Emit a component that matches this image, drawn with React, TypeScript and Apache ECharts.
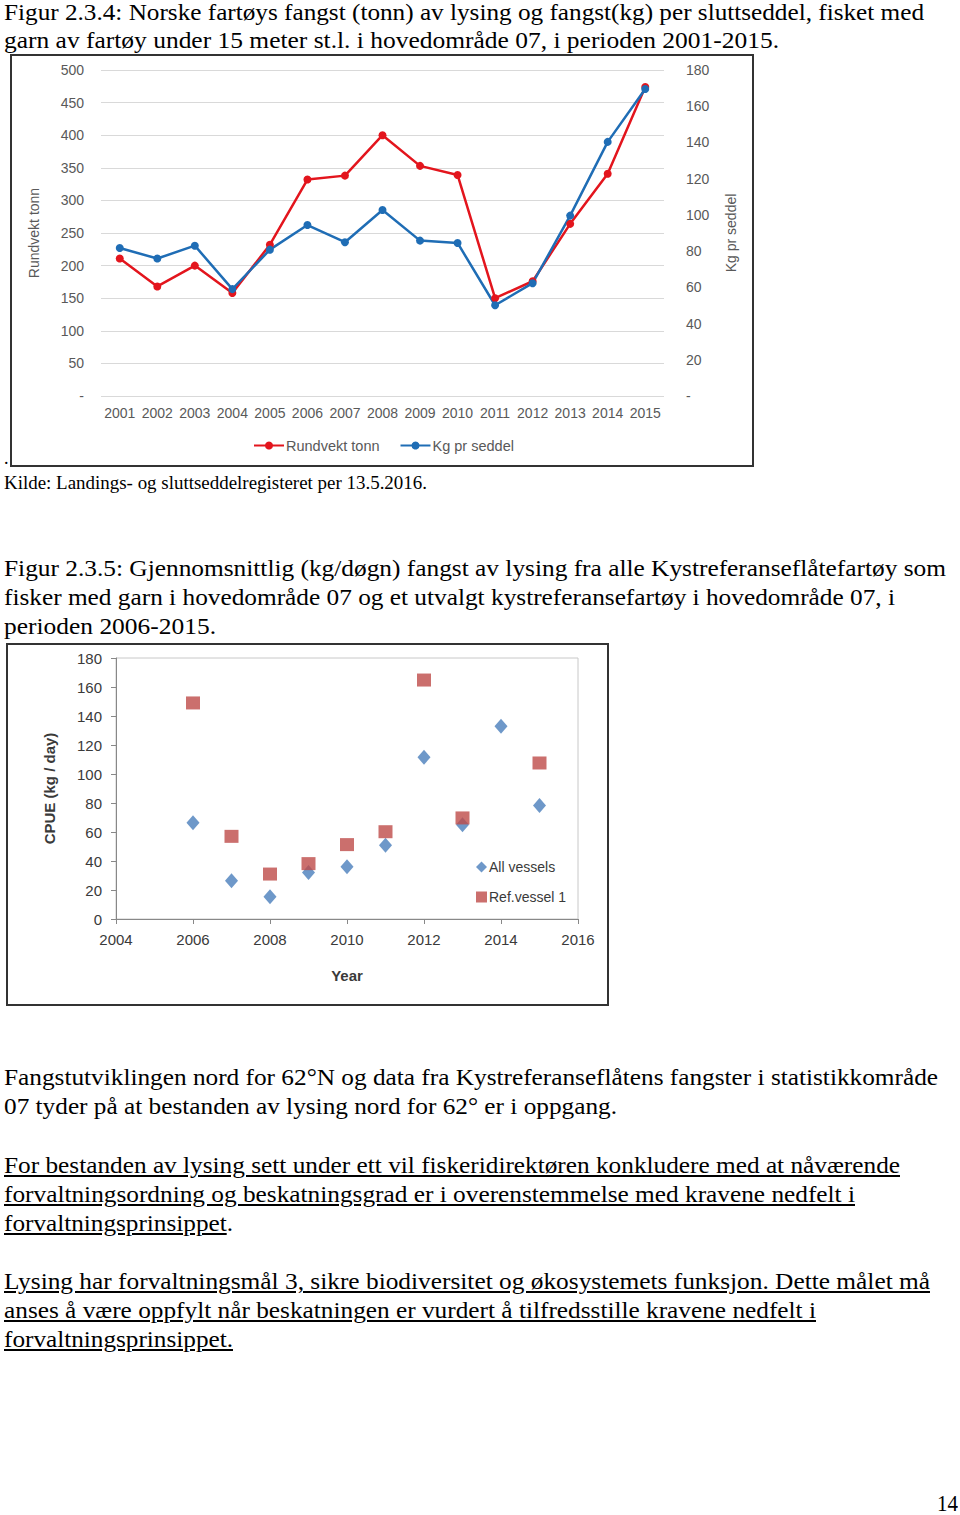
import React, { useEffect, useLayoutEffect, useRef } from "react";
import * as echarts from "echarts";

// ---------- Chart 1 data ----------
const years1 = ["2001","2002","2003","2004","2005","2006","2007","2008","2009","2010","2011","2012","2013","2014","2015"];
const rundvektTonn = [211, 168, 200, 158, 232, 332, 338, 400, 353, 339, 150, 176, 264, 341, 474];
const kgPrSeddel = [81.7, 75.9, 83.0, 59.0, 80.8, 94.4, 84.9, 102.7, 85.8, 84.5, 50.1, 62.3, 99.6, 140.3, 169.5];

// ---------- Chart 2 data ----------
const allVessels: [number, number][] = [
  [2006, 66.4], [2007, 26.4], [2008, 15.4], [2009, 32.0], [2010, 36.1],
  [2011, 50.8], [2012, 111.5], [2013, 65.0], [2014, 132.9], [2015, 78.2],
];
const refVessel1: [number, number][] = [
  [2006, 149.0], [2007, 57.0], [2008, 31.0], [2009, 38.2], [2010, 51.3],
  [2011, 60.2], [2012, 164.8], [2013, 69.7], [2015, 107.6],
];

// ---------- Page text ----------
type Seg = { t: string; u?: boolean };
type LineDef = { x: number; base: number; w?: number; size: number; segs: Seg[] };

const SERIF = '"Liberation Serif", "Times New Roman", serif';

const pageLines: LineDef[] = [
  { x: 4, base: 21, w: 920, size: 24, segs: [{ t: "Figur 2.3.4: Norske fartøys fangst (tonn) av lysing og fangst(kg) per sluttseddel, fisket med" }] },
  { x: 4, base: 49, w: 775, size: 24, segs: [{ t: "garn av fartøy under 15 meter st.l. i hovedområde 07, i perioden 2001-2015." }] },
  { x: 4, base: 465, size: 18, segs: [{ t: "." }] },
  { x: 4, base: 490, w: 423, size: 18, segs: [{ t: "Kilde: Landings- og sluttseddelregisteret per 13.5.2016." }] },
  { x: 4, base: 577, w: 942, size: 24, segs: [{ t: "Figur 2.3.5: Gjennomsnittlig (kg/døgn) fangst av lysing fra alle Kystreferanseflåtefartøy som" }] },
  { x: 4, base: 606, w: 891, size: 24, segs: [{ t: "fisker med garn i hovedområde 07 og et utvalgt kystreferansefartøy i hovedområde 07, i" }] },
  { x: 4, base: 635, w: 212, size: 24, segs: [{ t: "perioden 2006-2015." }] },
  { x: 4, base: 1086, w: 934, size: 24, segs: [{ t: "Fangstutviklingen nord for 62°N og data fra Kystreferanseflåtens fangster i statistikkområde" }] },
  { x: 4, base: 1115, w: 613, size: 24, segs: [{ t: "07 tyder på at bestanden av lysing nord for 62° er i oppgang." }] },
  { x: 4, base: 1174, w: 896, size: 24, segs: [{ t: "For bestanden av lysing sett under ett vil fiskeridirektøren konkludere med at nåværende", u: true }] },
  { x: 4, base: 1203, w: 851, size: 24, segs: [{ t: "forvaltningsordning og beskatningsgrad er i overenstemmelse med kravene nedfelt i", u: true }] },
  { x: 4, base: 1232, w: 229, size: 24, segs: [{ t: "forvaltningsprinsippet", u: true }, { t: "." }] },
  { x: 4, base: 1290, w: 926, size: 24, segs: [{ t: "Lysing har forvaltningsmål 3, sikre biodiversitet og økosystemets funksjon. Dette målet må", u: true }] },
  { x: 4, base: 1319, w: 812, size: 24, segs: [{ t: "anses å være oppfylt når beskatningen er vurdert å tilfredsstille kravene nedfelt i", u: true }] },
  { x: 4, base: 1348, w: 229, size: 24, segs: [{ t: "forvaltningsprinsippet.", u: true }] },
  { x: 937, base: 1512, w: 21, size: 24, segs: [{ t: "14" }] },
];

function TextLine({ def }: { def: LineDef }) {
  const ref = useRef<HTMLSpanElement>(null);
  const lh = 29;
  const top = def.base - ((lh - 1.107 * def.size) / 2 + 0.891 * def.size);
  useLayoutEffect(() => {
    const el = ref.current;
    if (!el || !def.w) return;
    el.style.transform = "none";
    const actual = el.getBoundingClientRect().width;
    if (actual > 0) el.style.transform = `scaleX(${def.w / actual})`;
  }, [def.w]);
  return (
    <span
      ref={ref}
      style={{
        position: "absolute",
        left: def.x,
        top,
        whiteSpace: "nowrap",
        fontFamily: SERIF,
        fontSize: def.size,
        lineHeight: lh + "px",
        transformOrigin: "0 0",
        color: "#000",
      }}
    >
      {def.segs.map((s, i) => (
        <span key={i} style={{ textDecoration: s.u ? "underline" : "none" }}>{s.t}</span>
      ))}
    </span>
  );
}

const SANS = '"Liberation Sans", Arial, sans-serif';
const CAL = '"Liberation Sans Narrow", "Liberation Sans", Arial, sans-serif';

function Chart1() {
  const ref = useRef<HTMLDivElement>(null);
  useEffect(() => {
    if (!ref.current) return;
    const chart = echarts.init(ref.current, null, { renderer: "svg" });
    const grey = "#595959";
    chart.setOption({
      animation: false,
      grid: { left: 89, top: 14, width: 563, height: 326 },
      legend: {
        data: ["Rundvekt tonn", "Kg pr seddel"],
        left: 236,
        top: 377,
        itemWidth: 30,
        itemHeight: 10,
        itemGap: 20,
        textStyle: { fontSize: 14.5, color: grey, fontFamily: SANS, padding: [0, 0, 0, -3] },
      },
      xAxis: {
        type: "category",
        data: years1,
        axisLine: { show: false },
        axisTick: { show: false },
        axisLabel: { interval: 0, fontSize: 14, color: grey, fontFamily: SANS, margin: 10 },
      },
      yAxis: [
        {
          type: "value",
          min: 0,
          max: 500,
          interval: 50,
          name: "Rundvekt tonn",
          nameLocation: "middle",
          nameGap: 60,
          nameTextStyle: { fontSize: 14, color: grey, fontFamily: SANS },
          axisLine: { show: false },
          axisTick: { show: false },
          axisLabel: { fontSize: 14, color: grey, fontFamily: SANS, margin: 17, formatter: (v: number) => (v === 0 ? "-" : String(v)) },
          splitLine: { lineStyle: { color: "#d9d9d9", width: 1 } },
        },
        {
          type: "value",
          min: 0,
          max: 180,
          interval: 20,
          position: "right",
          name: "Kg pr seddel",
          nameLocation: "middle",
          nameGap: 60,
          nameTextStyle: { fontSize: 14, color: grey, fontFamily: SANS },
          axisLine: { show: false },
          axisTick: { show: false },
          axisLabel: { fontSize: 14, color: grey, fontFamily: SANS, margin: 22, formatter: (v: number) => (v === 0 ? "-" : String(v)) },
          splitLine: { show: false },
        },
      ],
      series: [
        {
          name: "Rundvekt tonn",
          type: "line",
          data: rundvektTonn,
          yAxisIndex: 0,
          symbol: "circle",
          symbolSize: 8,
          lineStyle: { color: "#e3151d", width: 2.5 },
          itemStyle: { color: "#e3151d" },
        },
        {
          name: "Kg pr seddel",
          type: "line",
          data: kgPrSeddel,
          yAxisIndex: 1,
          symbol: "circle",
          symbolSize: 8,
          lineStyle: { color: "#1f6db5", width: 2.5 },
          itemStyle: { color: "#1f6db5" },
        },
      ],
    });
    return () => chart.dispose();
  }, []);
  return <div ref={ref} style={{ position: "absolute", left: 12, top: 56, width: 740, height: 409 }} />;
}

function Chart2() {
  const ref = useRef<HTMLDivElement>(null);
  useEffect(() => {
    if (!ref.current) return;
    const chart = echarts.init(ref.current, null, { renderer: "svg" });
    const txt = "#3a3a3a";
    chart.setOption({
      animation: false,
      grid: { left: 108, top: 13, width: 462, height: 261, show: true, borderColor: "#c8c8c8", borderWidth: 1 },
      legend: {
        orient: "vertical",
        left: 463,
        top: 210,
        itemGap: 16,
        itemWidth: 11,
        itemHeight: 11,
        data: [
          { name: "All vessels", icon: "diamond" },
          { name: "Ref.vessel 1", icon: "rect" },
        ],
        textStyle: { fontSize: 14, color: txt, fontFamily: CAL, padding: [0, 0, 0, -3] },
      },
      xAxis: {
        type: "value",
        min: 2004,
        max: 2016,
        interval: 2,
        name: "Year",
        nameLocation: "middle",
        nameGap: 49,
        nameTextStyle: { fontSize: 15, fontWeight: "bold", color: txt, fontFamily: CAL },
        axisLine: { lineStyle: { color: "#888888" } },
        axisTick: { show: true, length: 5, lineStyle: { color: "#888888" } },
        axisLabel: { fontSize: 15, color: txt, fontFamily: SANS, margin: 13, formatter: (v: number) => String(v) },
        splitLine: { show: false },
      },
      yAxis: {
        type: "value",
        min: 0,
        max: 180,
        interval: 20,
        name: "CPUE (kg / day)",
        nameLocation: "middle",
        nameGap: 59,
        nameTextStyle: { fontSize: 15, fontWeight: "bold", color: txt, fontFamily: CAL },
        axisLine: { show: true, lineStyle: { color: "#888888" } },
        axisTick: { show: true, length: 5, lineStyle: { color: "#888888" } },
        axisLabel: { fontSize: 15, color: txt, fontFamily: SANS, margin: 14 },
        splitLine: { show: false },
      },
      series: [
        {
          name: "All vessels",
          type: "scatter",
          data: allVessels,
          symbol: "diamond",
          symbolSize: [13, 15],
          itemStyle: { color: "#4a7ebb" },
        },
        {
          name: "Ref.vessel 1",
          type: "scatter",
          data: refVessel1,
          symbol: "rect",
          symbolSize: [14, 13],
          itemStyle: { color: "#be4b48" },
        },
      ],
    });
    return () => chart.dispose();
  }, []);
  return <div ref={ref} style={{ position: "absolute", left: 8, top: 645, width: 599, height: 359 }} />;
}

export default function App() {
  return (
    <div style={{ position: "absolute", left: 0, top: 0, width: 960, height: 1515, background: "#fff", overflow: "hidden" }}>
      {pageLines.map((d, i) => (
        <TextLine key={i} def={d} />
      ))}
      <div style={{ position: "absolute", left: 10, top: 54, width: 744, height: 413, border: "2px solid #333", boxSizing: "border-box" }} />
      <div style={{ position: "absolute", left: 6, top: 643, width: 603, height: 363, border: "2px solid #333", boxSizing: "border-box" }} />
      <Chart1 />
      <Chart2 />
    </div>
  );
}
